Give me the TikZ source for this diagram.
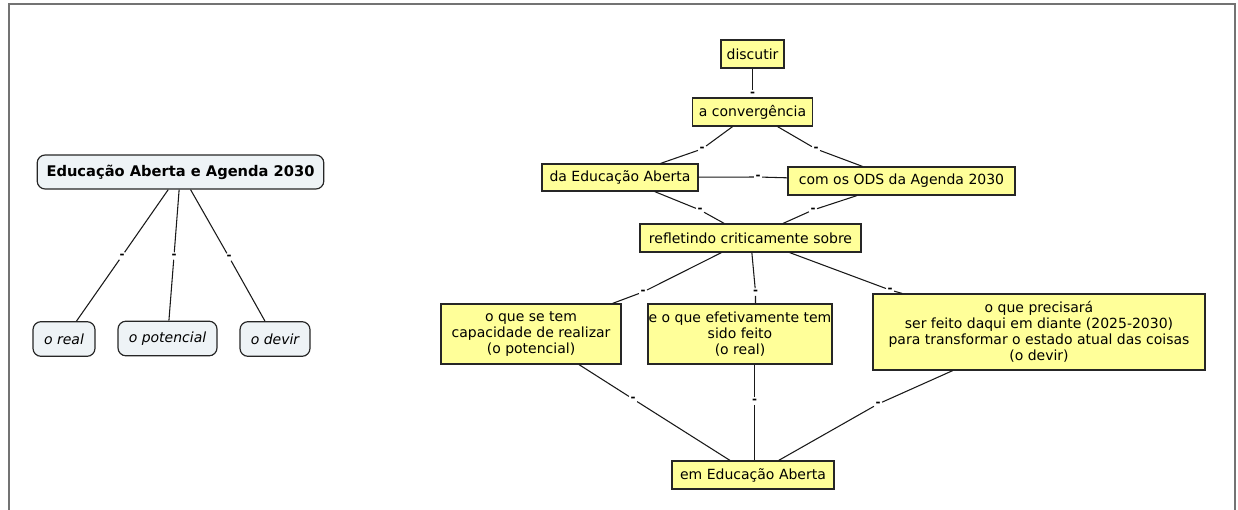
\documentclass[tikz,border=0pt]{standalone}
\usepackage{fontspec}
\setmainfont{DejaVu Sans}
\usepackage{xcolor}
\usepackage{tikz}
\usetikzlibrary{positioning}

\definecolor{cmapyellow}{RGB}{255,255,153}
\definecolor{cmapgrey}{RGB}{238,243,246}

\begin{document}
\begin{tikzpicture}
  [
    x=0.75pt, y=-0.75pt,
    concept/.style={
      draw=black!85, fill=cmapyellow, line width=0.9pt,
      inner sep=2pt, minimum height=21pt, align=center,
      font=\fontsize{10.5}{12}\selectfont
    },
    topic/.style={
      draw=black!85, fill=cmapgrey, line width=0.9pt,
      rounded corners=6pt, inner sep=2pt, minimum height=26pt,
      font=\fontsize{10.5}{12}\selectfont\itshape
    },
    lbl/.style={fill=white, inner sep=1pt, font=\fontsize{9}{10}\selectfont\bfseries},
    ln/.style={draw=black!90, line width=0.8pt}
  ]
  \useasboundingbox (0,0) rectangle (1238,510);
  \draw [black!55, line width=1.5pt] (8.5,515) -- (8.5,4) -- (1235,4) -- (1235,515);

  \node (root) at (180.5,172) [topic, minimum width=215pt, minimum height=25.5pt,
    font=\fontsize{11}{13}\selectfont\bfseries] {Educação Aberta e Agenda 2030};
  \node (real) at (64,339) [topic, minimum width=46.5pt] {o real};
  \node (potencial) at (167.5,338.5) [topic, minimum width=74.25pt] {o potencial};
  \node (devir) at (275,339) [topic, minimum width=52.5pt] {o devir};

  \node (lr) at (122,256) [lbl] {-};
  \node (lp) at (174,256) [lbl] {-};
  \node (ld) at (229,257) [lbl] {-};

  \node (discutir) at (752.5,54) [concept, minimum width=47.25pt] {discutir};
  \node (converg) at (752.5,112) [concept, minimum width=90pt] {a convergência};
  \node (daEA) at (620,177.5) [concept, minimum width=117pt, minimum height=20.25pt] {da Educação Aberta};
  \node (ods) at (901.5,181) [concept, minimum width=170.25pt] {com os ODS da Agenda 2030};
  \node (refl) at (750.5,238) [concept, minimum width=165.75pt] {refletindo criticamente sobre};
  \node (potenc) at (531,334) [concept, minimum width=135pt, minimum height=45pt]
    {o que se tem\\capacidade de realizar\\(o potencial)};
  \node (real2) at (740,334) [concept, inner xsep=0.5pt, minimum width=133.5pt, minimum height=45pt]
    {e o que efetivamente tem\\sido feito\\(o real)};
  \node (devir2) at (1039,332) [concept, minimum width=249pt, minimum height=57pt]
    {o que precisará\\ser feito daqui em diante (2025-2030)\\para transformar o estado atual das coisas\\(o devir)};
  \node (emEA) at (753,475) [concept, minimum width=121.5pt] {em Educação Aberta};

  \node (l1) at (752.5,94) [lbl] {-};
  \node (l2) at (702,149) [lbl] {-};
  \node (l3) at (816,149) [lbl] {-};
  \node (l4) at (758,177) [lbl] {-};
  \node (l5) at (700,210) [lbl] {-};
  \node (l6) at (813,210) [lbl] {-};
  \node (l7) at (643,292) [lbl] {-};
  \node (l8) at (755.5,292) [lbl] {-};
  \node (l9) at (890,290) [lbl] {-};
  \node (l10) at (633,399) [lbl] {-};
  \node (l11) at (754.5,401) [lbl] {-};
  \node (l12) at (878,404) [lbl] {-};

  \draw [ln] (root) -- (lr) -- (real);
  \draw [ln] (root) -- (lp) -- (potencial);
  \draw [ln] (root) -- (ld) -- (devir);

  \draw [ln] (discutir) -- (l1) -- (converg);
  \draw [ln] (converg) -- (l2) -- (daEA);
  \draw [ln] (converg) -- (l3) -- (ods);
  \draw [ln] (daEA) -- (l4) -- (ods);
  \draw [ln] (daEA) -- (l5) -- (refl);
  \draw [ln] (ods) -- (l6) -- (refl);
  \draw [ln] (refl) -- (l7) -- (potenc);
  \draw [ln] (refl) -- (l8) -- (l8 |- real2.north);
  \draw [ln] (refl) -- (l9) -- (devir2);
  \draw [ln] (potenc) -- (l10) -- (emEA);
  \draw [ln] (l11 |- real2.south) -- (l11) -- (l11 |- emEA.north);
  \draw [ln] (devir2) -- (l12) -- (emEA);
\end{tikzpicture}
\end{document}
